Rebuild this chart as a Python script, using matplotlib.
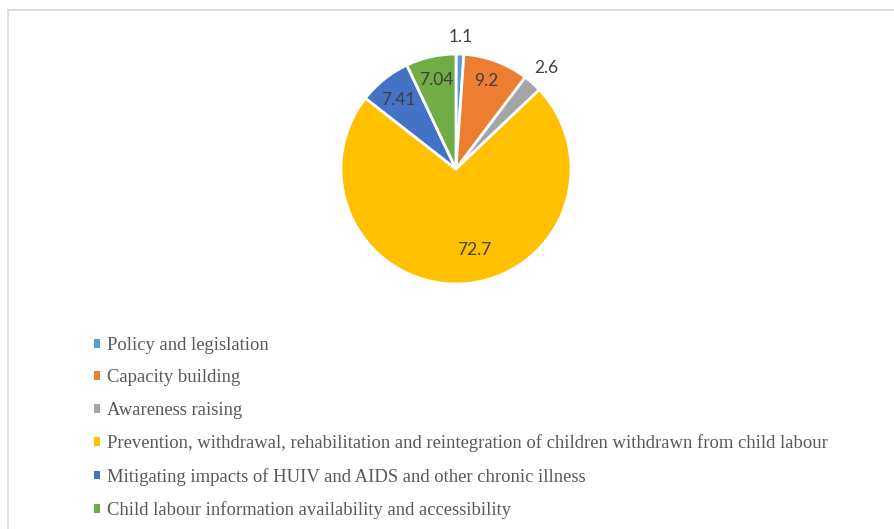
import matplotlib
matplotlib.use("Agg")
import matplotlib.pyplot as plt
from matplotlib.lines import Line2D
from matplotlib.patches import Patch
import numpy as np

# ---------------------------------------------------------------------------
# Data
# ---------------------------------------------------------------------------
categories = [
    "Policy and legislation",
    "Capacity building",
    "Awareness raising",
    "Prevention, withdrawal, rehabilitation and reintegration of children withdrawn from child labour",
    "Mitigating impacts of HUIV and AIDS and other chronic illness",
    "Child labour information availability and accessibility",
]
values = [1.1, 9.2, 2.6, 72.7, 7.41, 7.04]
value_labels = ["1.1", "9.2", "2.6", "72.7", "7.41", "7.04"]

colors = ["#5B9BD5", "#ED7D31", "#A5A5A5", "#FFC000", "#4472C4", "#70AD47"]
# label placement: radial distance and angular nudge (degrees)
label_dist = [1.15, 0.81, 1.18, 0.72, 0.78, 0.79]
label_nudge = [0, 1.5, 0, 10, 1.5, 0]

W, H = 894, 529
fig = plt.figure(figsize=(W / 100, H / 100), dpi=100)

# pie axes: center (456, 169) px, radius 115 px
cx, cy, r = 456, 169, 115
ax = fig.add_axes([(cx - r) / W, (H - cy - r) / H, 2 * r / W, 2 * r / H])

wedges, _ = ax.pie(values, colors=colors, startangle=90, counterclock=False,
                   wedgeprops=dict(edgecolor="white", linewidth=2))
ax.set_xlim(-1, 1)
ax.set_ylim(-1, 1)
ax.axis("off")

for w, txt, d, nd in zip(wedges, value_labels, label_dist, label_nudge):
    ang = np.deg2rad((w.theta1 + w.theta2) / 2 + nd)
    ax.text(d * np.cos(ang), d * np.sin(ang), txt, ha="center", va="center",
            fontsize=12.5, color="#404040", family="Lato")

# legend with plain square swatches
handles = [Patch(facecolor=c, edgecolor="none") for c in colors]
fig.legend(handles, categories, loc="upper left",
           bbox_to_anchor=(94 / W, 1 - 337 / H), frameon=False,
           prop=dict(family="Liberation Serif", size=13.4),
           labelcolor="#595959", handlelength=0.34, handleheight=0.34,
           handletextpad=0.36, labelspacing=0.83, borderpad=0,
           borderaxespad=0)

# chart-area border (top and left edges visible)
fig.add_artist(Line2D([7.5 / W, 1], [1 - 9.5 / H, 1 - 9.5 / H],
                      color="#D9D9D9", linewidth=1.2, transform=fig.transFigure))
fig.add_artist(Line2D([7.5 / W, 7.5 / W], [0, 1 - 9.5 / H],
                      color="#D9D9D9", linewidth=1.2, transform=fig.transFigure))

fig.savefig("out.png", dpi=100)
